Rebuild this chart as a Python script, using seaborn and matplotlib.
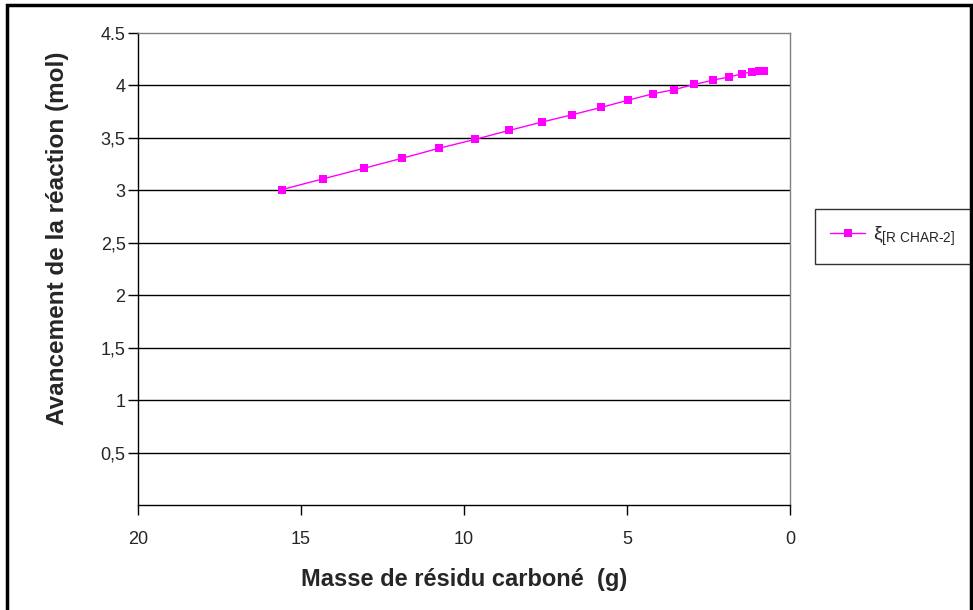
import numpy as np
import pandas as pd
import matplotlib
matplotlib.use("Agg")
import matplotlib.pyplot as plt
import seaborn as sns
from matplotlib.patches import Rectangle

# data
masse = [15.58, 14.32, 13.07, 11.91, 10.78, 9.66, 8.62, 7.62, 6.69, 5.80,
         4.96, 4.21, 3.55, 2.93, 2.37, 1.88, 1.48, 1.17, 0.94, 0.79]
avancement = [3.007, 3.11, 3.21, 3.305, 3.40, 3.486, 3.571, 3.65, 3.72, 3.79,
              3.86, 3.92, 3.96, 4.01, 4.05, 4.08, 4.11, 4.13, 4.14, 4.14]
y_ticks = [0.5, 1, 1.5, 2, 2.5, 3, 3.5, 4, 4.5]
y_labels = ["0,5", "1", "1,5", "2", "2,5", "3", "3,5", "4", "4.5"]
x_ticks = [20, 15, 10, 5, 0]
serie = r"ξ$_{\mathrm{[R\ CHAR}\text{-}\mathrm{2]}}$"

sns.set_style("white")
plt.rcParams["font.family"] = ["Liberation Sans", "DejaVu Sans"]
plt.rcParams["mathtext.fontset"] = "custom"
plt.rcParams["mathtext.rm"] = "Liberation Sans"
plt.rcParams["mathtext.it"] = "Liberation Sans:italic"

df = pd.DataFrame({"masse": masse, "avancement": avancement})

fig = plt.figure(figsize=(9.73, 6.1), dpi=100)
ax = fig.add_axes([138 / 973, 1 - 505 / 610, (790 - 138) / 973, (505 - 33) / 610])

sns.lineplot(data=df, x="masse", y="avancement", ax=ax, color="#FF00FF",
             marker="s", markersize=5.5, markeredgewidth=0, linewidth=1,
             label=serie, sort=False)

ax.set_xlim(20, 0)
ax.set_ylim(0, 4.5)
ax.set_xticks(x_ticks)
ax.set_xticklabels([str(t) for t in x_ticks], fontsize=13)
ax.set_yticks(y_ticks)
ax.set_yticklabels(y_labels, fontsize=13)
ax.tick_params(axis="both", direction="out", length=7, width=1, color="black",
               bottom=True, left=True)
ax.tick_params(axis="x", pad=12)
ax.tick_params(axis="y", pad=2)

for y in y_ticks[:-1]:
    ax.axhline(y, color="black", linewidth=1, zorder=0)

ax.spines["left"].set_color("black")
ax.spines["bottom"].set_color("black")
ax.spines["top"].set_color("#808080")
ax.spines["right"].set_color("#808080")
for s in ax.spines.values():
    s.set_linewidth(1)

ax.set_xlabel("Masse de résidu carboné  (g)", fontsize=17, fontweight="bold", labelpad=14)
ax.set_ylabel("Avancement de la réaction (mol)", fontsize=17.5, fontweight="bold")
ax.yaxis.set_label_coords(-0.106, 0.566)

leg = ax.legend(loc="center left", bbox_to_anchor=(1.038, 0.569), frameon=True,
                fancybox=False, fontsize=14, handlelength=1.8, borderpad=0.8,
                handletextpad=0.4, borderaxespad=0)
leg.get_frame().set_edgecolor("black")
leg.get_frame().set_linewidth(1)

fig.patches.append(Rectangle((7 / 973, -0.02), (971 - 7) / 973, 1 - 5 / 610 + 0.02,
                             transform=fig.transFigure, fill=False,
                             edgecolor="black", linewidth=2.5))

fig.savefig("out.png", dpi=100)
